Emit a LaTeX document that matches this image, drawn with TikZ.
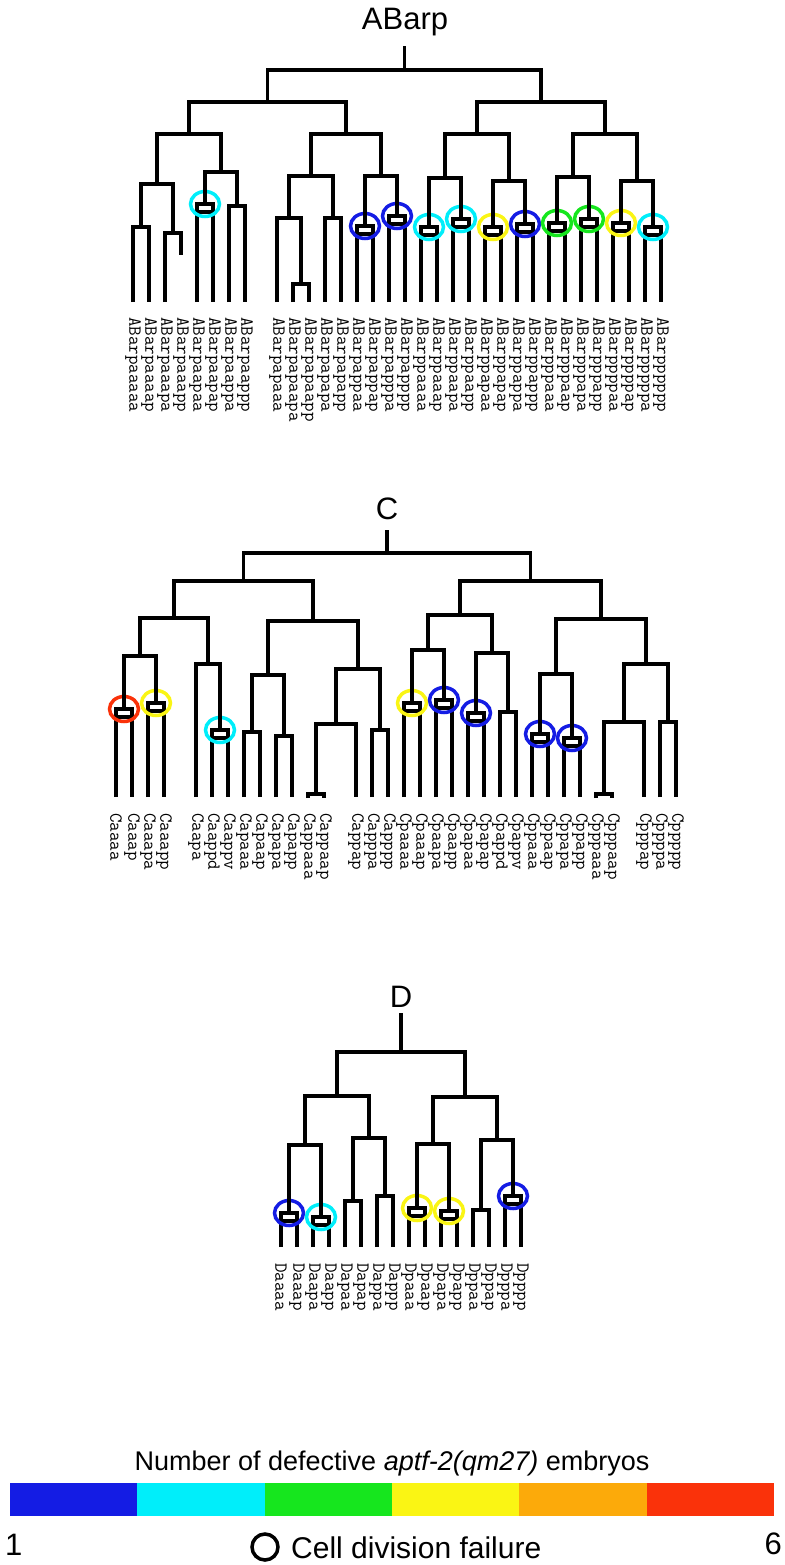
\documentclass[tikz,border=0pt]{standalone}
\usepackage{fontspec}
\setmainfont{Liberation Sans}
\usetikzlibrary{positioning}

\definecolor{nblue}{RGB}{20,28,228}
\definecolor{ncyan}{RGB}{0,238,250}
\definecolor{ngreen}{RGB}{22,230,30}
\definecolor{nyellow}{RGB}{250,245,20}
\definecolor{norange}{RGB}{252,170,10}
\definecolor{nred}{RGB}{250,50,10}

\tikzset{
  lin/.style={line width=3.5pt},
  ring/.style={line width=3.5pt, draw=#1},
  cell/.style={rotate=-90, anchor=west, inner sep=0pt, font=\ttfamily\fontsize{18.5}{18.5}\selectfont},
  ttl/.style={anchor=base, inner sep=0pt, font=\fontsize{31}{31}\selectfont},
  lgd/.style={inner sep=0pt, font=\fontsize{27}{27}\selectfont},
}
% fork: xleft, xright, yleft end, yright end, y of bar
\newcommand{\fork}[5]{\draw[lin] (#1,#3) |- (#2,#5) -- (#2,#4);}
% boxed division: x, top, bottom, ring colour
\newcommand{\boxdiv}[4]{%
  \draw[lin] ({#1-8},#3) |- ({#1+8},#2) -- ({#1+8},#3);
  \draw[lin] ({#1-8},{#2+8}) -- ({#1+8},{#2+8});
  \draw[ring=#4] (#1,#2) ellipse (14.5pt and 12.5pt);}
% short pair at the bottom
\newcommand{\tee}[3]{\draw[lin] ({#1-8},#3) |- ({#1+8},#2) -- ({#1+8},#3);}

\begin{document}
\begin{tikzpicture}[x=1pt, y=-1pt]
\useasboundingbox (0,0) rectangle (784,1565);

%% ABarp
\node[ttl] (tab) at (405,30) {ABarp};
\fork{133}{149}{302}{302}{227}
\fork{165}{181}{302}{255}{233}
\fork{141}{173}{227}{233}{184}
\boxdiv{205}{204}{302}{ncyan}
\fork{229}{245}{302}{302}{206}
\fork{205}{237}{204}{206}{172}
\fork{157}{221}{184}{172}{134}
\fork{293}{309}{302}{302}{284}
\fork{277}{301}{302}{284}{218}
\fork{325}{341}{302}{302}{218}
\fork{289}{333}{218}{218}{176}
\boxdiv{365}{226}{302}{nblue}
\boxdiv{397}{216}{302}{nblue}
\fork{365}{397}{226}{216}{176}
\fork{311}{381}{176}{176}{134}
\fork{189}{346}{134}{134}{102}
\boxdiv{429}{227}{302}{ncyan}
\boxdiv{461}{219}{302}{ncyan}
\fork{429}{461}{227}{219}{178}
\boxdiv{493}{227}{302}{nyellow}
\boxdiv{525}{224}{302}{nblue}
\fork{493}{525}{227}{224}{181}
\fork{445}{509}{178}{181}{134}
\boxdiv{557}{223}{302}{ngreen}
\boxdiv{589}{219}{302}{ngreen}
\fork{557}{589}{223}{219}{177}
\boxdiv{621}{223}{302}{nyellow}
\boxdiv{653}{227}{302}{ncyan}
\fork{621}{653}{223}{227}{181}
\fork{573}{637}{177}{181}{134}
\fork{477}{605}{134}{134}{102}
\fork{267.5}{541}{102}{102}{70}
\draw[lin] (404.25,70) -- (404.25,46);
\foreach \n/\i in {ABarpaaaaa/0,ABarpaaaap/1,ABarpaaapa/2,ABarpaaapp/3,
  ABarpaapaa/4,ABarpaapap/5,ABarpaappa/6,ABarpaappp/7,
  ABarpapaaa/9,ABarpapaapa/10,ABarpapaapp/11,ABarpapapa/12,ABarpapapp/13,
  ABarpappaa/14,ABarpappap/15,ABarpapppa/16,ABarpapppp/17,
  ABarppaaaa/18,ABarppaaap/19,ABarppaapa/20,ABarppaapp/21,
  ABarppapaa/22,ABarppapap/23,ABarppappa/24,ABarppappp/25,
  ABarpppaaa/26,ABarpppaap/27,ABarpppapa/28,ABarpppapp/29,
  ABarppppaa/30,ABarppppap/31,ABarpppppa/32,ABarpppppp/33}
  \node[cell] (ab\i) at ({133+16*\i},317) {\n};

%% C
\node[ttl] (tc) at (387,519) {C};
\boxdiv{124}{709}{797}{nred}
\boxdiv{156}{703}{797}{nyellow}
\fork{124}{156}{709}{703}{656}
\boxdiv{220}{730}{797}{ncyan}
\fork{196}{220}{797}{730}{664}
\fork{140}{208}{656}{664}{618}
\fork{244}{260}{797}{797}{732}
\fork{276}{292}{797}{797}{736}
\fork{252}{284}{732}{736}{675}
\tee{316}{794}{798}
\fork{316}{356}{794}{797}{724}
\fork{372}{388}{797}{797}{730}
\fork{336}{380}{724}{730}{669}
\fork{268}{358}{675}{669}{621}
\fork{174}{313}{618}{621}{581}
\boxdiv{412}{703}{797}{nyellow}
\boxdiv{444}{700}{797}{nblue}
\fork{412}{444}{703}{700}{650}
\boxdiv{476}{713}{797}{nblue}
\fork{500}{516}{797}{797}{712}
\fork{476}{508}{713}{712}{653}
\fork{428}{492}{650}{653}{615}
\boxdiv{540}{734}{797}{nblue}
\boxdiv{572}{738}{797}{nblue}
\fork{540}{572}{734}{738}{674}
\tee{604}{794}{798}
\fork{604}{644}{794}{797}{722}
\fork{660}{676}{797}{797}{722}
\fork{624}{668}{722}{722}{664}
\fork{556}{646}{674}{664}{619}
\fork{460}{601}{615}{619}{581}
\fork{243.5}{530.5}{581}{581}{553}
\draw[lin] (387,553) -- (387,530);
\foreach \n/\i in {Caaaa/0,Caaap/1,Caaapa/2,Caaapp/3,Caapa/5,Caappd/6,Caappv/7,
  Capaaa/8,Capaap/9,Capapa/10,Capapp/11,Cappaaa/12,Cappaap/13,
  Cappap/15,Capppa/16,Capppp/17,
  Cpaaaa/18,Cpaaap/19,Cpaapa/20,Cpaapp/21,Cpapaa/22,Cpapap/23,Cpappd/24,Cpappv/25,
  Cppaaa/26,Cppaap/27,Cppapa/28,Cppapp/29,Cpppaaa/30,Cpppaap/31,
  Cpppap/33,Cppppa/34,Cppppp/35}
  \node[cell] (c\i) at ({116+16*\i},813) {\n};

%% D
\node[ttl] (td) at (401,1007) {D};
\boxdiv{289}{1213}{1247}{nblue}
\boxdiv{321}{1217}{1247}{ncyan}
\fork{289}{321}{1213}{1217}{1145}
\fork{345}{361}{1247}{1247}{1201}
\fork{377}{393}{1247}{1247}{1196}
\fork{353}{385}{1201}{1196}{1138}
\fork{305}{369}{1145}{1138}{1096}
\boxdiv{417}{1208}{1247}{nyellow}
\boxdiv{449}{1211}{1247}{nyellow}
\fork{417}{449}{1208}{1211}{1144}
\fork{473}{489}{1247}{1247}{1210}
\boxdiv{513}{1196}{1247}{nblue}
\fork{481}{513}{1210}{1196}{1140}
\fork{433}{497}{1144}{1140}{1097}
\fork{337}{465}{1096}{1097}{1052}
\draw[lin] (401,1052) -- (401,1013);
\foreach \n/\i in {Daaaa/0,Daaap/1,Daapa/2,Daapp/3,Dapaa/4,Dapap/5,Dappa/6,Dappp/7,
  Dpaaa/8,Dpaap/9,Dpapa/10,Dpapp/11,Dppaa/12,Dppap/13,Dpppa/14,Dpppp/15}
  \node[cell] (d\i) at ({281+16*\i},1263) {\n};

%% legend
\node[lgd] (lt) at (392,1464) {Number of defective \textit{aptf-2(qm27)} embryos};
\foreach \c [count=\k from 0] in {nblue,ncyan,ngreen,nyellow,norange,nred}
  \fill[\c] ({10+127.33*\k},1483) rectangle ({10+127.33*(\k+1)},1516);
\node[lgd, anchor=west, font=\fontsize{31}{31}\selectfont] (lone) at (5,1545) {1};
\node[lgd, anchor=east, font=\fontsize{31}{31}\selectfont] (lsix) at (782,1544) {6};
\draw[lin] (265,1547) circle (13pt);
\node[lgd, anchor=west, font=\fontsize{30}{30}\selectfont] (lcf) at (291,1548) {Cell division failure};
\end{tikzpicture}
\end{document}
